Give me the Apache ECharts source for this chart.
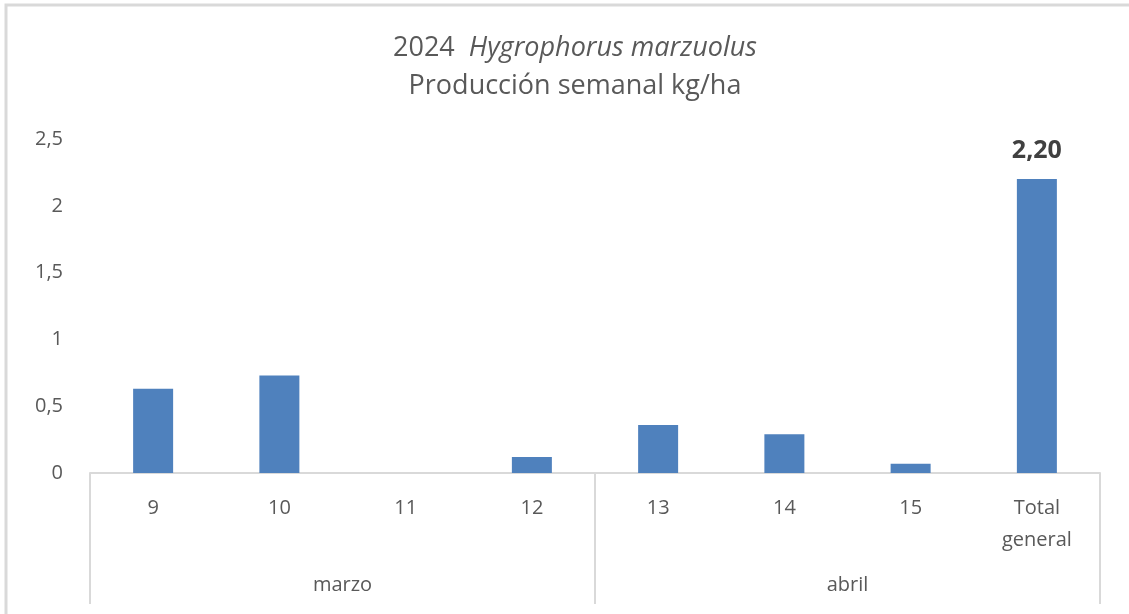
<!DOCTYPE html>
<html>
<head>
<meta charset="utf-8">
<script src="https://cdn.jsdelivr.net/npm/echarts@6/dist/echarts.min.js"></script>
<style>
html,body{margin:0;padding:0;background:#fff;}
#chart{width:1129px;height:614px;}
</style>
</head>
<body>
<div id="chart"></div>
<script>
const weeks = ['9', '10', '11', '12', '13', '14', '15', 'Total general'];
const months = ['marzo', 'abril'];
const production = [0.63, 0.73, 0, 0.12, 0.36, 0.29, 0.07, 2.20];
const yTicks = ['0', '0,5', '1', '1,5', '2', '2,5'];

const FONT = "'Open Sans', 'Noto Sans', sans-serif";
const chart = echarts.init(document.getElementById('chart'), null, {renderer: 'canvas'});

const barData = production.map((v, i) => {
  const item = {value: v};
  if (i === production.length - 1) {
    item.label = {
      show: true, position: 'top', distance: 16,
      formatter: p => p.value.toFixed(2).replace('.', ','),
      fontFamily: FONT, fontSize: 25, fontWeight: 'bold', color: '#404040'
    };
  }
  return item;
});

chart.setOption({
  backgroundColor: '#ffffff',
  animation: false,
  graphic: [{
    type: 'polyline',
    shape: {points: [[6, 640], [6, 5], [1140, 5]]},
    style: {stroke: '#d9d9d9', lineWidth: 3, fill: null},
    silent: true
  }],
  title: {
    left: 570,
    textAlign: 'center',
    top: 24,
    text: '{a|2024  }{b|Hygrophorus marzuolus}\n{a|Producción semanal kg/ha}',
    textStyle: {
      fontWeight: 'normal',
      rich: {
        a: {fontFamily: FONT, fontSize: 27, fontWeight: 'normal', color: '#595959', lineHeight: 38},
        b: {fontFamily: FONT, fontSize: 27, fontWeight: 'normal', fontStyle: 'italic', color: '#595959', lineHeight: 38}
      }
    }
  },
  grid: {left: 90, right: 29, top: 139, bottom: 141, containLabel: false},
  xAxis: [{
    type: 'category',
    data: weeks,
    position: 'bottom',
    axisLine: {show: true, lineStyle: {color: '#d9d9d9', width: 2}},
    axisTick: {show: false},
    axisLabel: {
      interval: 0, margin: 19,
      fontFamily: FONT, fontSize: 20, color: '#595959', lineHeight: 32,
      formatter: v => v.replace(' ', '\n'),
      verticalAlign: 'top'
    },
    splitLine: {show: false}
  }, {
    type: 'category',
    data: months,
    position: 'bottom',
    axisLine: {show: false},
    axisTick: {show: true, length: 131, lineStyle: {color: '#d9d9d9', width: 2}},
    axisLabel: {interval: 0, margin: 102, fontFamily: FONT, fontSize: 20, color: '#595959'},
    splitLine: {show: false}
  }],
  yAxis: {
    type: 'value',
    min: 0, max: 2.5, interval: 0.5,
    axisLine: {show: false},
    axisTick: {show: false},
    splitLine: {show: false},
    axisLabel: {
      margin: 27, fontFamily: FONT, fontSize: 20, color: '#595959',
      formatter: v => yTicks[Math.round(v / 0.5)]
    }
  },
  series: [{
    type: 'bar',
    xAxisIndex: 0,
    data: barData,
    barWidth: 40,
    itemStyle: {color: '#4f81bd', borderWidth: 0}
  }]
});
</script>
</body>
</html>
